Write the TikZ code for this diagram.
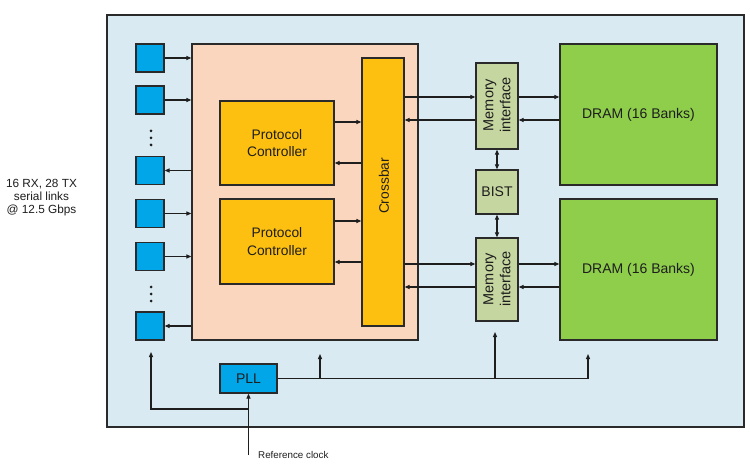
\documentclass[tikz,border=0pt]{standalone}
\usepackage{fontspec}
\setmainfont{Liberation Sans}
\usetikzlibrary{arrows.meta}
\definecolor{bgblue}{HTML}{D9EAF2}
\definecolor{cyanbox}{HTML}{00A6E8}
\definecolor{salmon}{HTML}{FAD6BE}
\definecolor{orangebox}{HTML}{FDBF10}
\definecolor{olivebox}{HTML}{C6D6A0}
\definecolor{greenbox}{HTML}{8ECE4B}
\definecolor{ink}{HTML}{1E1E1E}
\definecolor{edge}{HTML}{2A2A2A}
\begin{document}
\begin{tikzpicture}[x=1pt,y=-1pt,
  box/.style={draw=edge,line width=1.2pt,inner sep=0pt,anchor=center},
  lbl/.style={text=ink,inner sep=0pt,align=center},
  arr/.style={draw=ink,line width=1.1pt,-{Triangle[length=5pt,width=4pt]}},
  darr/.style={draw=ink,line width=1.1pt,{Triangle[length=5pt,width=4pt]}-{Triangle[length=5pt,width=4pt]}},
  ln/.style={draw=ink,line width=1.1pt}]
\useasboundingbox (0,0) rectangle (750,473);
\fill[white] (0,0) rectangle (750,473);
% outer
\node[box,fill=bgblue,minimum width=637pt,minimum height=412pt] (outer) at (425.5,221) {};
% serial link squares
\foreach \n/\yy in {1/58,2/100,3/170.5,4/213.5,5/256.5,6/326}
  \node[box,fill=cyanbox,minimum width=28pt,minimum height=28pt] (sq\n) at (150,\yy) {};
\foreach \yy in {131,138,145,287,294,301}
  \fill[ink] (151,\yy) circle (1.5pt);
% salmon block
\node[box,fill=salmon,minimum width=226pt,minimum height=296pt] (core) at (305,192) {};
\node[box,fill=orangebox,minimum width=114pt,minimum height=84pt] (pc1) at (277,143) {};
\node[lbl,font=\fontsize{13.8}{17.5}\selectfont] (pc1t) at (pc1) {Protocol\\Controller};
\node[box,fill=orangebox,minimum width=114pt,minimum height=85pt] (pc2) at (277,241.5) {};
\node[lbl,font=\fontsize{13.8}{17.5}\selectfont] (pc2t) at (pc2) {Protocol\\Controller};
\node[box,fill=orangebox,minimum width=42pt,minimum height=268pt] (xbar) at (383,192) {};
\node[lbl,rotate=90,font=\fontsize{13.8}{16}\selectfont] (xbart) at (384,186) {Crossbar};
% memory interfaces
\node[box,fill=olivebox,minimum width=42pt,minimum height=86pt] (mi1) at (497,106) {};
\node[lbl,rotate=90,font=\fontsize{14.5}{17}\selectfont] (mi1t) at (497,105) {Memory\\interface};
\node[box,fill=olivebox,minimum width=42pt,minimum height=44pt] (bist) at (497,192) {};
\node[lbl,font=\fontsize{14}{16}\selectfont] (bistt) at (bist) {BIST};
\node[box,fill=olivebox,minimum width=42pt,minimum height=83pt] (mi2) at (497,279.5) {};
\node[lbl,rotate=90,font=\fontsize{14.5}{17}\selectfont] (mi2t) at (497,279) {Memory\\interface};
% DRAM
\node[box,fill=greenbox,minimum width=157pt,minimum height=141pt] (dram1) at (638.5,114.5) {};
\node[lbl,font=\fontsize{14}{16}\selectfont] (dram1t) at (dram1) {DRAM (16 Banks)};
\node[box,fill=greenbox,minimum width=157pt,minimum height=141pt] (dram2) at (638.5,269.5) {};
\node[lbl,font=\fontsize{14}{16}\selectfont] (dram2t) at (dram2) {DRAM (16 Banks)};
% PLL
\node[box,fill=cyanbox,minimum width=57pt,minimum height=29pt] (pll) at (248.5,378.5) {};
\node[lbl,font=\fontsize{14}{16}\selectfont] (pllt) at (pll) {PLL};
% texts
\node[lbl,font=\fontsize{11.8}{13}\selectfont] (links) at (41.5,198) {16 RX, 28 TX\\serial links\\@ 12.5 Gbps};
\node[lbl,anchor=west,font=\fontsize{9.8}{12}\selectfont] (refclk) at (258,455) {Reference clock};
% link arrows
\draw[arr] (sq1) -- (sq1 -| core.west);
\draw[arr] (sq2) -- (sq2 -| core.west);
\draw[arr] (sq3 -| core.west) -- (sq3.east);
\draw[arr] (sq4) -- (sq4 -| core.west);
\draw[arr] (sq5) -- (sq5 -| core.west);
\draw[arr] (sq6 -| core.west) -- (sq6.east);
% controller <-> crossbar
\draw[arr] ([yshift=21pt]pc1.east) -- ([yshift=21pt]pc1.east -| xbar.west);
\draw[arr] ([yshift=-20pt]pc1.east -| xbar.west) -- ([yshift=-20pt]pc1.east);
\draw[arr] ([yshift=20.5pt]pc2.east) -- ([yshift=20.5pt]pc2.east -| xbar.west);
\draw[arr] ([yshift=-20.5pt]pc2.east -| xbar.west) -- ([yshift=-20.5pt]pc2.east);
% crossbar <-> MI <-> DRAM
\coordinate (r1) at (0,97);
\coordinate (l1) at (0,120);
\coordinate (r2) at (0,264);
\coordinate (l2) at (0,287);
\draw[arr] (xbar.east |- r1) -- (mi1.west |- r1);
\draw[arr] (mi1.west |- l1) -- (xbar.east |- l1);
\draw[arr] (mi1.east |- r1) -- (dram1.west |- r1);
\draw[arr] (dram1.west |- l1) -- (mi1.east |- l1);
\draw[arr] (xbar.east |- r2) -- (mi2.west |- r2);
\draw[arr] (mi2.west |- l2) -- (xbar.east |- l2);
\draw[arr] (mi2.east |- r2) -- (dram2.west |- r2);
\draw[arr] (dram2.west |- l2) -- (mi2.east |- l2);
% BIST
\draw[darr] (mi1.south) -- (bist.north);
\draw[darr] (bist.south) -- (mi2.north);
% clock distribution
\coordinate (c1) at (320,378.5);
\coordinate (c2) at (495,378.5);
\coordinate (t1) at (320,354);
\coordinate (t2) at (495,332);
\coordinate (t3) at (588,354);
\draw[arr] (pll.east) -| (t3);
\draw[arr] (c1) -- (t1);
\draw[arr] (c2) -- (t2);
\coordinate (rc) at (248.5,455);
\coordinate (b1) at (248.5,409);
\coordinate (t0) at (151,352);
\draw[arr] (rc) -- (pll.south);
\draw[arr] (b1) -| (t0);
\end{tikzpicture}
\end{document}
